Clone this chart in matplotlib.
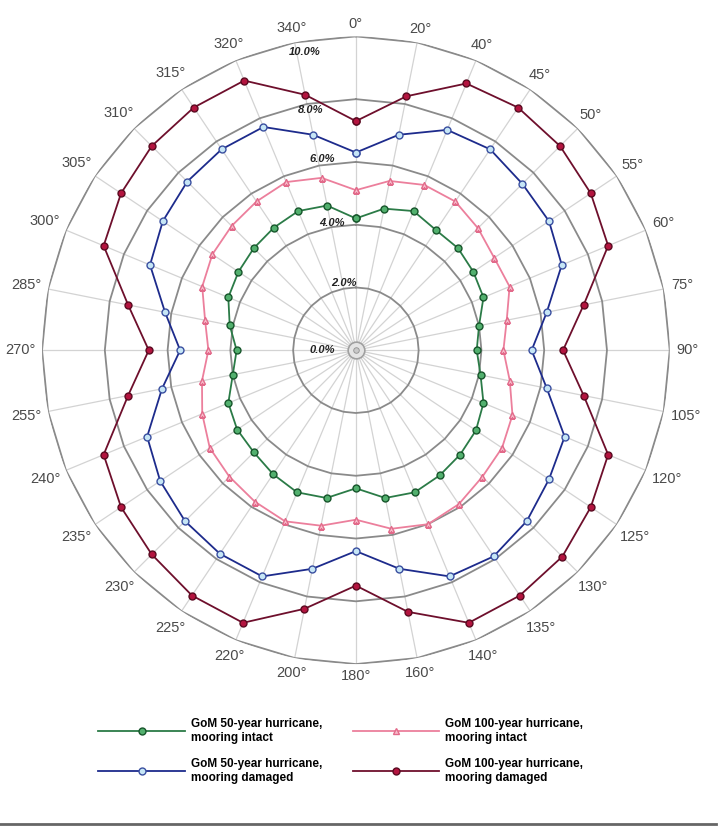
import numpy as np
import matplotlib
matplotlib.use('Agg')
import matplotlib.pyplot as plt
from matplotlib.lines import Line2D

# direction labels (32 equally spaced spokes, clockwise from top)
directions = ['0°', '20°', '40°', '45°', '50°', '55°', '60°', '75°',
              '90°', '105°', '120°', '125°', '130°', '135°', '140°', '160°',
              '180°', '200°', '220°', '225°', '230°', '235°', '240°', '255°',
              '270°', '285°', '300°', '305°', '310°', '315°', '320°', '340°']

# offsets in %
gom50_intact = [4.2, 4.6, 4.8, 4.6, 4.6, 4.5, 4.4, 4.0,
                3.85, 4.05, 4.4, 4.6, 4.7, 4.8, 4.9, 4.8,
                4.4, 4.8, 4.9, 4.75, 4.6, 4.55, 4.4, 4.0,
                3.8, 4.1, 4.4, 4.5, 4.6, 4.7, 4.8, 4.7]
gom100_intact = [5.1, 5.5, 5.7, 5.7, 5.5, 5.3, 5.3, 4.9,
                 4.7, 5.0, 5.4, 5.6, 5.7, 5.9, 6.0, 5.8,
                 5.4, 5.7, 5.9, 5.8, 5.7, 5.6, 5.3, 5.0,
                 4.7, 4.9, 5.3, 5.5, 5.6, 5.7, 5.8, 5.6]
gom50_damaged = [6.3, 7.0, 7.6, 7.7, 7.5, 7.4, 7.1, 6.2,
                 5.6, 6.2, 7.2, 7.4, 7.7, 7.9, 7.8, 7.1,
                 6.4, 7.1, 7.8, 7.8, 7.7, 7.5, 7.2, 6.3,
                 5.6, 6.2, 7.1, 7.4, 7.6, 7.7, 7.7, 7.0]
gom100_damaged = [7.3, 8.25, 9.2, 9.3, 9.2, 9.0, 8.7, 7.4,
                  6.6, 7.4, 8.7, 9.0, 9.3, 9.4, 9.4, 8.5,
                  7.5, 8.4, 9.4, 9.4, 9.2, 9.0, 8.7, 7.4,
                  6.6, 7.4, 8.7, 9.0, 9.2, 9.3, 9.3, 8.3]

rings = [0, 2, 4, 6, 8, 10]
ring_labels = ['0.0%', '2.0%', '4.0%', '6.0%', '8.0%', '10.0%']


def closed(vals):
    return list(vals) + [vals[0]]


def main():
    n = len(directions)
    theta = np.arange(n) * 2 * np.pi / n
    th_c = np.append(theta, theta[0])

    fig = plt.figure(figsize=(7.2, 8.27), dpi=100)
    ax = fig.add_axes([0.0583, 0.197, 0.872, 0.759], projection='polar')
    ax.set_theta_zero_location('N')
    ax.set_theta_direction(-1)
    ax.set_ylim(0, 10)
    ax.grid(False)
    ax.set_xticks([])
    ax.set_yticks([])
    ax.spines['polar'].set_visible(False)

    # spokes
    for t in theta:
        ax.plot([t, t], [0, 10], color='#d3d3d3', lw=0.9, zorder=1)
    # polygon rings
    for r in rings[1:]:
        ax.plot(th_c, [r] * (n + 1), color='#8a8a8a', lw=1.3, zorder=2)
    # centre symbol
    ax.plot(0, 0, marker='o', ms=12, mfc='#e4e4e4', mec='#a0a0a0', mew=1.2, zorder=3)
    ax.plot(0, 0, marker='o', ms=4, mfc='#c8c8c8', mec='#909090', mew=0.6, zorder=3)

    # series
    l1, = ax.plot(th_c, closed(gom50_intact), color='#2b7b47', lw=1.3, marker='o', ms=5,
                  mfc='#52b06e', mec='#17552b', mew=1.0, zorder=5,
                  label='GoM 50-year hurricane,\nmooring intact')
    l2, = ax.plot(th_c, closed(gom100_intact), color='#ec7f9c', lw=1.3, marker='^', ms=5,
                  mfc='#f8bccb', mec='#e26a8a', mew=1.0, zorder=5,
                  label='GoM 100-year hurricane,\nmooring intact')
    l3, = ax.plot(th_c, closed(gom50_damaged), color='#1d2b8c', lw=1.3, marker='o', ms=5,
                  mfc='#c6e6f6', mec='#3a4fa0', mew=1.0, zorder=5,
                  label='GoM 50-year hurricane,\nmooring damaged')
    l4, = ax.plot(th_c, closed(gom100_damaged), color='#6e0f2c', lw=1.3, marker='o', ms=5,
                  mfc='#b3143f', mec='#5a0a20', mew=1.0, zorder=5,
                  label='GoM 100-year hurricane,\nmooring damaged')

    # direction labels just outside frame
    for t, lab in zip(theta, directions):
        w = 7.8 * len(lab)
        h = 12
        pad = 6 + 0.5 * w * abs(np.sin(t)) + 0.5 * h * abs(np.cos(t))
        ax.text(t, 10 + pad / 31.4, lab, ha='center', va='center',
                fontsize=10.5, color='#4a4a4a', family=['Liberation Sans', 'DejaVu Sans'])

    # ring labels
    offs = {0: (-34, 0), 2: (-12, 4), 4: (-24, 2), 6: (-34, 3), 8: (-45, -11), 10: (-51, -16)}
    for r, lab in zip(rings, ring_labels):
        ax.annotate(lab, xy=(0, r), xytext=offs[r], textcoords='offset pixels',
                    ha='center', va='center', fontsize=8, fontweight='bold',
                    fontstyle='italic', color='#222222', zorder=6,
                    family=['Liberation Sans', 'DejaVu Sans'])

    fig.legend([l1, l3, l2, l4], [l1.get_label(), l3.get_label(), l2.get_label(), l4.get_label()],
               loc='upper left', bbox_to_anchor=(0.122, 0.1445), ncol=2, frameon=False,
               prop={'family': ['Liberation Sans Narrow', 'Liberation Sans'], 'weight': 'bold', 'size': 8.5},
               handlelength=7.3, handletextpad=0.5, columnspacing=2.6, labelspacing=1.2,
               bbox_transform=fig.transFigure)

    fig.add_artist(Line2D([0, 0.995], [0.004, 0.004], color='#666666', lw=2))

    fig.savefig('out.png', dpi=100, facecolor='white')


if __name__ == '__main__':
    main()
